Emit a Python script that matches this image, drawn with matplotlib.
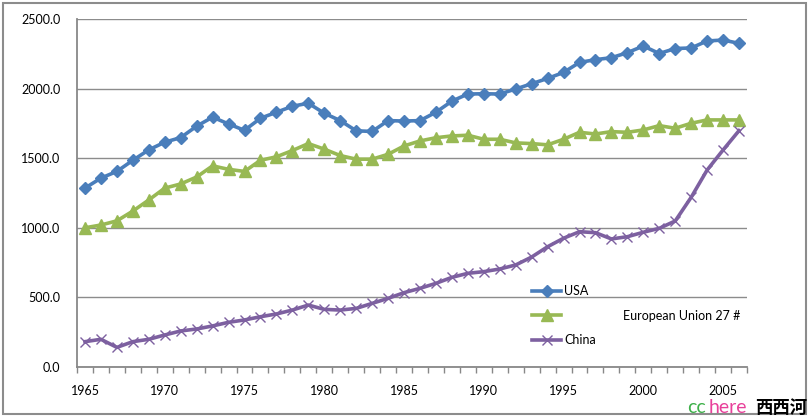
import matplotlib
matplotlib.use("Agg")
import matplotlib.pyplot as plt
from matplotlib.patches import Rectangle

years = list(range(1965, 2007))
usa = [1285, 1357, 1405, 1485, 1560, 1615, 1648, 1730, 1795, 1746, 1700, 1787, 1830, 1873, 1895,
       1823, 1770, 1697, 1692, 1770, 1767, 1770, 1830, 1910, 1961, 1963, 1961, 1997, 2035, 2073,
       2116, 2188, 2208, 2222, 2258, 2306, 2252, 2288, 2292, 2342, 2349, 2325]
eu27 = [1000, 1020, 1050, 1120, 1200, 1285, 1315, 1365, 1445, 1420, 1405, 1485, 1510, 1555, 1605,
        1565, 1519, 1493, 1493, 1528, 1588, 1624, 1647, 1660, 1665, 1636, 1636, 1610, 1605, 1596,
        1636, 1686, 1674, 1691, 1686, 1703, 1734, 1715, 1751, 1775, 1775, 1775]
china = [182, 199, 141, 182, 199, 230, 259, 273, 295, 321, 338, 361, 381, 409, 445,
         414, 409, 421, 457, 493, 534, 565, 601, 644, 673, 685, 704, 733, 790, 864,
         925, 972, 965, 920, 936, 968, 996, 1049, 1219, 1415, 1559, 1698]
yticks = [0, 500, 1000, 1500, 2000, 2500]
xlabels = [1965, 1970, 1975, 1980, 1985, 1990, 1995, 2000, 2005]

plt.rcParams['font.family'] = ['Lato', 'DejaVu Sans']

fig = plt.figure(figsize=(8.10, 4.19), dpi=100)
ax = fig.add_axes([77/810, 1 - 367/419, 670/810, 348/419])

c_usa, c_eu, c_cn = '#4A7EBB', '#98B954', '#7D60A0'
ax.plot(years, usa, color=c_usa, lw=2.6, marker='D', ms=6.5, label='USA', zorder=3)
ax.plot(years, eu27, color=c_eu, lw=2.6, marker='^', ms=8, label=' ', zorder=3)
ax.plot(years, china, color=c_cn, lw=2.6, marker='x', ms=7.5, mew=1.0, label='China', zorder=3)

ax.set_xlim(1964.5, 2006.5)
ax.set_ylim(0, 2500)
ax.set_yticks(yticks)
ax.set_yticklabels([f"{v:.1f}" for v in yticks])
ax.set_xticks(xlabels)
ax.set_xticklabels([str(v) for v in xlabels])
ax.set_xticks([y - 0.5 for y in years] + [years[-1] + 0.5], minor=True)
ax.tick_params(axis='x', which='major', length=0, pad=13, labelsize=9, colors='black')
ax.tick_params(axis='x', which='minor', length=4, width=1, color='#888888', direction='out')
ax.tick_params(axis='y', length=0, pad=12, labelsize=9)
ax.yaxis.grid(True, color='#8C8C8C', lw=1)
ax.set_axisbelow(True)
for s in ['top', 'right']:
    ax.spines[s].set_visible(False)
for s in ['left', 'bottom']:
    ax.spines[s].set_color('#888888')
    ax.spines[s].set_linewidth(1.3)

leg = ax.legend(loc='upper left', bbox_to_anchor=(0.672, 0.25), frameon=False, fontsize=9,
                handlelength=2.3, handletextpad=0.25, labelspacing=1.02, borderaxespad=0)
ax.text(0.99, 0.147, 'European Union 27 #', transform=ax.transAxes, ha='right', va='center', fontsize=9)

fig.patches.append(Rectangle((3/810, 5/419), 803/810, 411/419, transform=fig.transFigure,
                             fill=False, edgecolor='#8C8C8C', lw=1.5))
fig.text(687/810, 1 - 407/419, 'cc', color='#3DB049', fontsize=14, va='center', ha='left')
fig.text(709/810, 1 - 407/419, 'here', color='#E8409A', fontsize=14, va='center', ha='left')
fig.text(807/810, 1 - 408/419, '西西河', color='black', fontsize=12.5, va='center', ha='right',
         family=['Noto Sans CJK SC', 'DejaVu Sans'], fontweight='bold')

fig.savefig('out.png', dpi=100)
